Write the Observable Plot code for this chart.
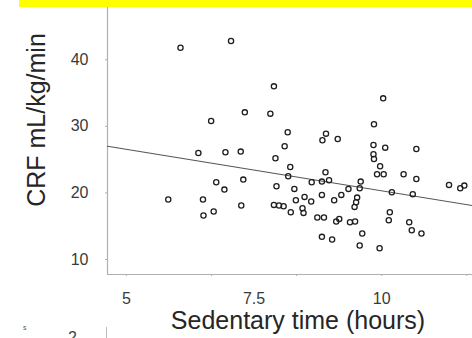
<!DOCTYPE html>
<html><head><meta charset="utf-8">
<script src="https://cdn.jsdelivr.net/npm/d3@7"></script>
<script src="https://cdn.jsdelivr.net/npm/@observablehq/plot@0.6"></script>
<style>
html,body{margin:0;padding:0;background:#fff;}
#wrap{position:relative;width:472px;height:338px;overflow:hidden;font-family:'Liberation Sans',Arial,sans-serif;}
#band{position:absolute;left:19px;top:0;width:453px;height:7px;background:#ffff00;z-index:2;}
#frag-line{position:absolute;left:106px;top:327px;width:1px;height:11px;background:#bbb;}
#frag-2{position:absolute;left:68px;top:330px;font-size:16px;color:#444;line-height:1;}
#frag-s{position:absolute;left:23px;top:324px;font-size:7px;color:#555;line-height:1;}
#chart{position:absolute;left:0;top:0;}
</style></head><body>
<div id="wrap"><div id="chart"></div><div id="band"></div><div id="frag-line"></div><div id="frag-2">2</div><div id="frag-s">s</div></div>
<script>
// Sedentary time (hours) vs CRF (mL/kg/min)
const sedentaryHours = [6.06,7.05,7.89,7.32,7.82,6.66,6.41,6.94,7.24,7.92,
  10.03,9.85,8.16,8.91,8.84,9.14,8.10,9.84,10.07,10.68,
  9.84,9.85,7.29,6.76,6.92,5.82,6.50,7.25,6.71,6.51,
  8.21,8.17,8.90,8.83,8.97,8.63,9.59,7.94,8.29,9.35,
  9.57,8.83,9.21,9.07,8.49,8.32,8.62,9.52,9.50,9.47,
  7.89,7.99,8.08,8.22,8.45,8.47,8.74,8.87,9.11,9.17,
  9.38,9.48,9.97,9.91,10.04,10.43,10.68,10.20,10.61,11.32,
  11.54,11.62,10.16,10.14,10.54,10.59,10.78,9.62,8.83,9.03,
  9.57,9.96];
const crf = [41.8,42.8,36.0,32.1,31.9,30.8,26.0,26.1,26.2,25.2,
  34.2,30.3,29.1,28.9,27.9,28.1,27.0,27.2,26.8,26.6,
  25.8,25.1,22.0,21.6,20.5,19.0,19.0,18.1,17.2,16.6,
  23.9,22.5,23.1,21.7,21.9,21.6,21.7,21.0,20.6,20.6,
  20.7,19.7,19.7,18.9,19.4,18.9,18.7,19.3,18.6,17.9,
  18.2,18.1,18.0,17.1,17.7,17.0,16.3,16.3,15.7,16.1,
  15.6,15.7,24.0,22.8,22.8,22.8,22.1,20.1,19.8,21.2,
  20.7,21.1,17.1,15.9,15.6,14.4,13.9,13.9,13.4,13.0,
  12.1,11.7];
const xTickLabels = [5, 7.5, 10];
const xTickMarks = [5, 20/3, 25/3, 10, 35/3];
const yTicks = [10, 20, 30, 40];
const fitIntercept = 32.76;
const fitSlope = -1.245;
const xDomain = [4.63, 11.78];
const yDomain = [7.75, 47.84];
const xTitle = "Sedentary time (hours)";
const yTitle = "CRF mL/kg/min";

const points = sedentaryHours.map((x, i) => ({x, y: crf[i]}));
const fit = xDomain.map(x => ({x, y: fitIntercept + fitSlope * x}));

const chart = Plot.plot({
  width: 472, height: 338,
  marginLeft: 107, marginRight: 0, marginTop: 7, marginBottom: 64,
  x: {domain: xDomain},
  y: {domain: yDomain},
  style: {fontFamily: "'Liberation Sans', Arial, sans-serif", background: "transparent", overflow: "visible"},
  marks: [
    Plot.ruleX([xDomain[0]], {stroke: "#b0b0b0", strokeWidth: 1.2}),
    Plot.ruleY([yDomain[0]], {stroke: "#b0b0b0", strokeWidth: 1.2}),
    Plot.axisX({ticks: xTickMarks, tickFormat: () => "", tickSize: 2, stroke: "#b0b0b0", label: null}),
    Plot.axisX({ticks: xTickLabels, tickFormat: d => String(d), tickSize: 0, tickPadding: 18, fontSize: 16, fill: "#3a3a3a", label: null}),
    Plot.axisY({ticks: yTicks, tickFormat: () => "", tickSize: 2, stroke: "#b0b0b0", label: null}),
    Plot.axisY({ticks: yTicks, tickSize: 0, tickPadding: 19, fontSize: 16, fill: "#3a3a3a", label: null}),
    Plot.line(fit, {x: "x", y: "y", stroke: "#555", strokeWidth: 1.1}),
    Plot.dot(points, {x: "x", y: "y", r: 2.6, stroke: "#1e1e1e", strokeWidth: 1.3, fill: "none"}),
    Plot.text([xTitle], {frameAnchor: "bottom", textAnchor: "middle", lineAnchor: "middle", dx: 8, dy: 46, fontSize: 25, fill: "#262626"}),
    Plot.text([yTitle], {frameAnchor: "left", textAnchor: "middle", lineAnchor: "middle", rotate: -90, dx: -71, dy: -21, fontSize: 25, fill: "#262626"})
  ]
});
document.getElementById("chart").appendChild(chart);
</script>
</body></html>
